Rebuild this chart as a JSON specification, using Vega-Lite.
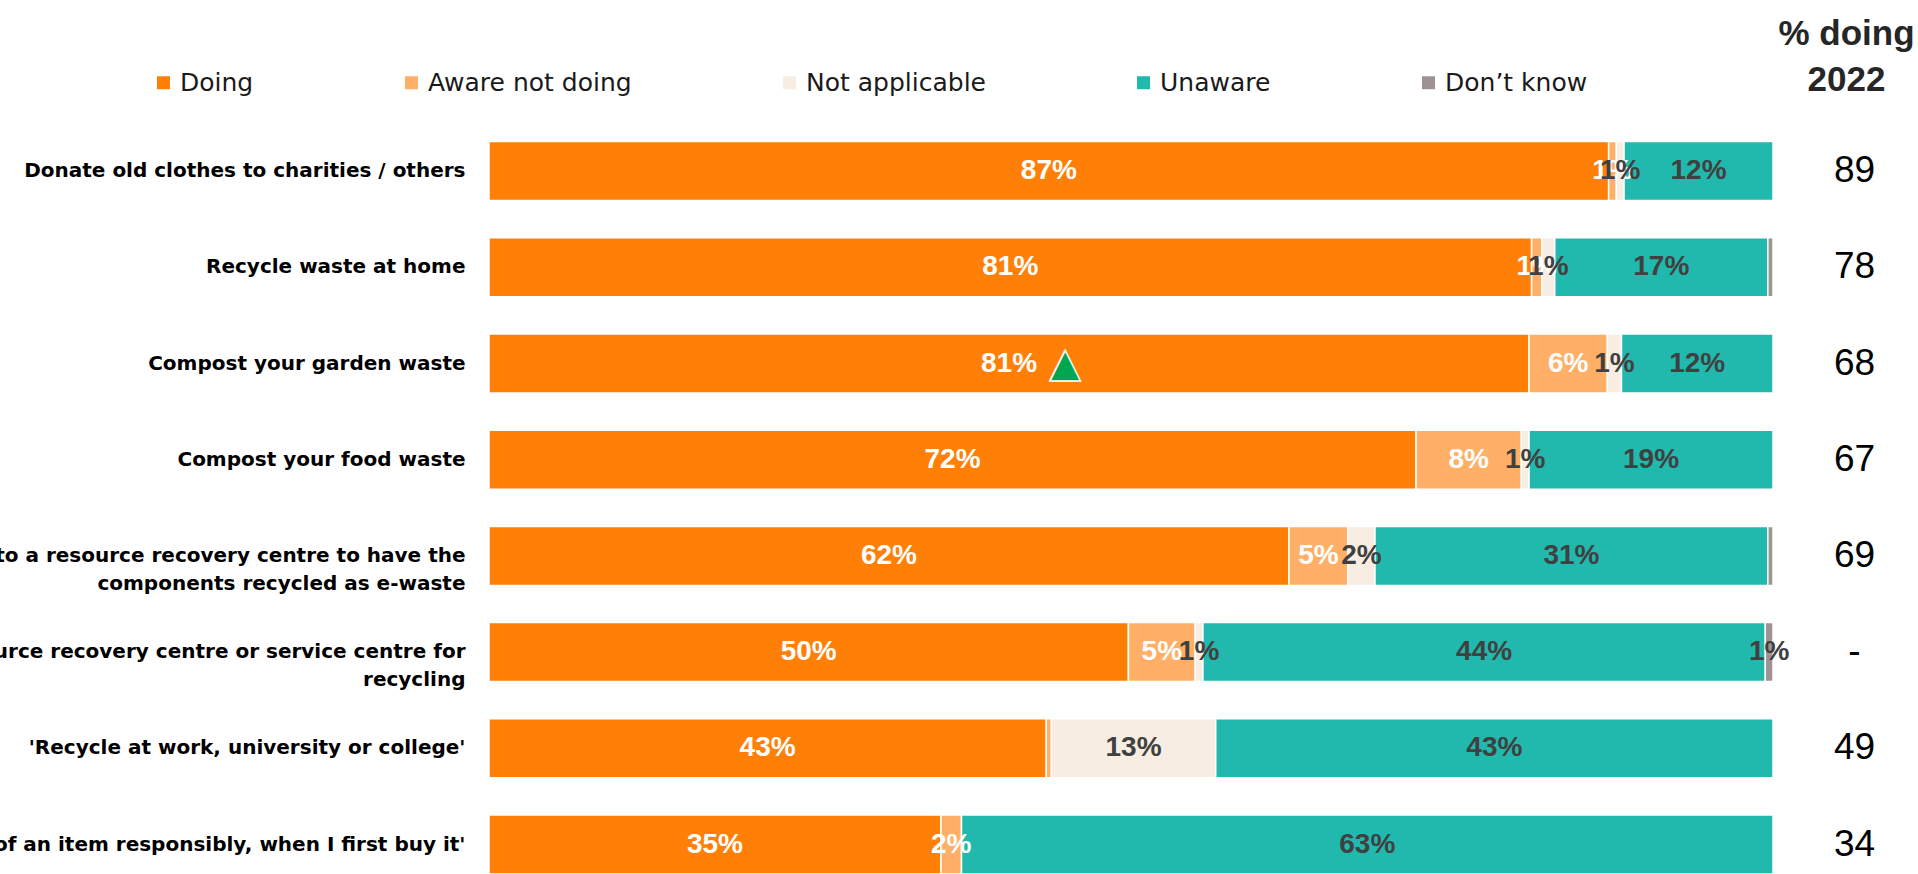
{
  "$schema": "https://vega.github.io/schema/vega-lite/v6.json",
  "width": 1284,
  "height": 754,
  "autosize": {"type": "none"},
  "padding": {"left": 489, "top": 120, "right": 145, "bottom": 0},
  "background": "white",
  "config": {"view": {"stroke": null}},
  "datasets": {
    "segments": [
      {"item": "Donate old clothes to charities / others", "status": "Doing", "value": 0.872},
      {"item": "Donate old clothes to charities / others", "status": "Aware not doing", "value": 0.006},
      {"item": "Donate old clothes to charities / others", "status": "Not applicable", "value": 0.006},
      {"item": "Donate old clothes to charities / others", "status": "Unaware", "value": 0.116},
      {"item": "Recycle waste at home", "status": "Doing", "value": 0.812},
      {"item": "Recycle waste at home", "status": "Aware not doing", "value": 0.008},
      {"item": "Recycle waste at home", "status": "Not applicable", "value": 0.010},
      {"item": "Recycle waste at home", "status": "Unaware", "value": 0.166},
      {"item": "Recycle waste at home", "status": "Don’t know", "value": 0.004},
      {"item": "Compost your garden waste", "status": "Doing", "value": 0.810, "sig": "up"},
      {"item": "Compost your garden waste", "status": "Aware not doing", "value": 0.061},
      {"item": "Compost your garden waste", "status": "Not applicable", "value": 0.011},
      {"item": "Compost your garden waste", "status": "Unaware", "value": 0.118},
      {"item": "Compost your food waste", "status": "Doing", "value": 0.722},
      {"item": "Compost your food waste", "status": "Aware not doing", "value": 0.082},
      {"item": "Compost your food waste", "status": "Not applicable", "value": 0.006},
      {"item": "Compost your food waste", "status": "Unaware", "value": 0.190},
      {"item": "Take old electrical items to a resource recovery centre to have the\ncomponents recycled as e-waste", "status": "Doing", "value": 0.623},
      {"item": "Take old electrical items to a resource recovery centre to have the\ncomponents recycled as e-waste", "status": "Aware not doing", "value": 0.046},
      {"item": "Take old electrical items to a resource recovery centre to have the\ncomponents recycled as e-waste", "status": "Not applicable", "value": 0.021},
      {"item": "Take old electrical items to a resource recovery centre to have the\ncomponents recycled as e-waste", "status": "Unaware", "value": 0.306},
      {"item": "Take old electrical items to a resource recovery centre to have the\ncomponents recycled as e-waste", "status": "Don’t know", "value": 0.004},
      {"item": "Take old mobile phones to a resource recovery centre or service centre for\nrecycling", "status": "Doing", "value": 0.498},
      {"item": "Take old mobile phones to a resource recovery centre or service centre for\nrecycling", "status": "Aware not doing", "value": 0.052},
      {"item": "Take old mobile phones to a resource recovery centre or service centre for\nrecycling", "status": "Not applicable", "value": 0.006},
      {"item": "Take old mobile phones to a resource recovery centre or service centre for\nrecycling", "status": "Unaware", "value": 0.438},
      {"item": "Take old mobile phones to a resource recovery centre or service centre for\nrecycling", "status": "Don’t know", "value": 0.006},
      {"item": "'Recycle at work, university or college'", "status": "Doing", "value": 0.434},
      {"item": "'Recycle at work, university or college'", "status": "Aware not doing", "value": 0.004},
      {"item": "'Recycle at work, university or college'", "status": "Not applicable", "value": 0.128},
      {"item": "'Recycle at work, university or college'", "status": "Unaware", "value": 0.434},
      {"item": "'Think about how to dispose of an item responsibly, when I first buy it'", "status": "Doing", "value": 0.352},
      {"item": "'Think about how to dispose of an item responsibly, when I first buy it'", "status": "Aware not doing", "value": 0.016},
      {"item": "'Think about how to dispose of an item responsibly, when I first buy it'", "status": "Unaware", "value": 0.632}
    ],
    "items": [
      {"item": "Donate old clothes to charities / others", "y2022": "89"},
      {"item": "Recycle waste at home", "y2022": "78"},
      {"item": "Compost your garden waste", "y2022": "68"},
      {"item": "Compost your food waste", "y2022": "67"},
      {"item": "Take old electrical items to a resource recovery centre to have the\ncomponents recycled as e-waste", "y2022": "69"},
      {"item": "Take old mobile phones to a resource recovery centre or service centre for\nrecycling", "y2022": "-"},
      {"item": "'Recycle at work, university or college'", "y2022": "49"},
      {"item": "'Think about how to dispose of an item responsibly, when I first buy it'", "y2022": "34"}
    ]
  },
  "layer": [
    {
      "data": {"name": "segments"},
      "transform": [
        {"calculate": "indexof(['Doing','Aware not doing','Not applicable','Unaware','Don’t know'], datum.status)", "as": "ord"},
        {"stack": "value", "groupby": ["item"], "sort": [{"field": "ord", "order": "ascending"}], "as": ["x0", "x1"]},
        {"calculate": "(datum.x0 + datum.x1) / 2", "as": "mid"}
      ],
      "layer": [
        {
          "mark": {"type": "bar", "stroke": "white", "strokeWidth": 1.5},
          "encoding": {
            "y": {
              "field": "item", "type": "nominal",
              "scale": {
                "domain": [
                  "Donate old clothes to charities / others",
                  "Recycle waste at home",
                  "Compost your garden waste",
                  "Compost your food waste",
                  "Take old electrical items to a resource recovery centre to have the\ncomponents recycled as e-waste",
                  "Take old mobile phones to a resource recovery centre or service centre for\nrecycling",
                  "'Recycle at work, university or college'",
                  "'Think about how to dispose of an item responsibly, when I first buy it'"
                ],
                "paddingInner": 0.3867, "paddingOuter": 0.1123, "align": 1
              },
              "axis": {
                "title": null, "domain": false, "ticks": false, "tickSize": 0, "grid": false,
                "labelPadding": 24, "labelFont": "DejaVu Sans", "labelFontWeight": "bold",
                "labelFontSize": 20, "labelColor": "#000000", "labelLimit": 3000,
                "labelExpr": "split(datum.value, '\\n')", "labelLineHeight": 28
              }
            },
            "x": {"field": "x0", "type": "quantitative", "scale": {"domain": [0, 1], "nice": false, "zero": false}, "axis": null},
            "x2": {"field": "x1"},
            "color": {
              "field": "status", "type": "nominal",
              "scale": {
                "domain": ["Doing", "Aware not doing", "Not applicable", "Unaware", "Don’t know"],
                "range": ["#FF7F07", "#FFB066", "#F7EDE3", "#21B9AE", "#9E9292"]
              },
              "legend": {
                "title": null, "orient": "none", "legendX": -338, "legendY": -50,
                "direction": "horizontal", "columns": 5, "columnPadding": 145,
                "symbolType": "square", "symbolSize": 169, "symbolStrokeWidth": 0,
                "labelFont": "DejaVu Sans", "labelFontSize": 25, "labelColor": "#1a1a1a",
                "labelOffset": 4, "labelLimit": 400
              }
            }
          }
        },
        {
          "transform": [{"filter": "datum.value >= 0.005"}],
          "mark": {"type": "text", "font": "Liberation Sans", "fontWeight": "bold", "fontSize": 28, "baseline": "middle", "align": "center"},
          "encoding": {
            "y": {"field": "item", "type": "nominal"},
            "x": {"field": "mid", "type": "quantitative"},
            "text": {"field": "value", "type": "quantitative", "format": ".0%"},
            "color": {"condition": {"test": "datum.ord < 2", "value": "#FFFFFF"}, "value": "#404040"}
          }
        },
        {
          "transform": [{"filter": "datum.sig == 'up'"}],
          "mark": {"type": "text", "text": "▲", "font": "DejaVu Sans", "fontSize": 40, "dx": 56, "baseline": "middle", "align": "center", "color": "#00A650", "stroke": "white", "strokeWidth": 1.5},
          "encoding": {
            "y": {"field": "item", "type": "nominal"},
            "x": {"field": "mid", "type": "quantitative"}
          }
        }
      ]
    },
    {
      "data": {"name": "items"},
      "mark": {"type": "bar", "opacity": 0},
      "encoding": {
        "y": {
          "field": "y2022", "type": "nominal", "sort": null,
          "scale": {"paddingInner": 0.3867, "paddingOuter": 0.1123, "align": 1},
          "axis": {
            "orient": "right", "domain": false, "ticks": false, "tickSize": 0, "grid": false,
            "labelPadding": 81, "labelAlign": "center", "labelFont": "Liberation Sans",
            "labelFontSize": 37, "labelColor": "#000000",
            "title": ["% doing", "2022"], "titleAngle": 0, "titleAlign": "center",
            "titleBaseline": "alphabetic", "titleX": 73, "titleY": -76,
            "titleFont": "Liberation Sans", "titleFontWeight": "bold", "titleFontSize": 35,
            "titleLineHeight": 46, "titleColor": "#262626"
          }
        }
      }
    }
  ],
  "resolve": {"scale": {"y": "independent"}, "axis": {"y": "independent"}}
}
